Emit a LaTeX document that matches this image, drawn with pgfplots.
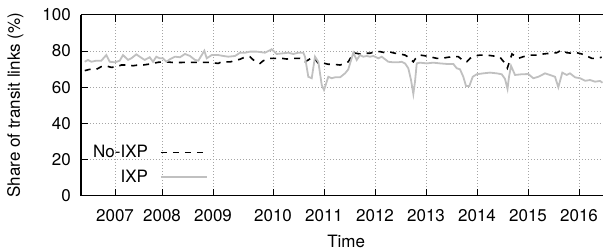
\documentclass[border=0pt]{standalone}
\usepackage{pgfplots}
\pgfplotsset{compat=1.18}
\usepackage{fontspec}
\setmainfont{TeX Gyre Heros}
\usetikzlibrary{calc}
\pgfdeclarelayer{legendbg}
\pgfplotsset{
  layers/mylayers/.define layer set={axis background,axis grid,legendbg,axis ticks,axis lines,axis tick labels,main,axis descriptions,axis foreground}{},
}
\definecolor{ixpgray}{RGB}{192,192,192}
\definecolor{gridgray}{RGB}{165,165,165}
\begin{document}
\begin{tikzpicture}
\begin{axis}[
  set layers=mylayers,
  scale only axis,
  width=522pt, height=181pt,
  xmin=6.235, xmax=16.47,
  ymin=0, ymax=100,
  axis x line=box, axis y line=left,
  y axis line style={-},
  axis line style={line width=1.1pt},
  tick align=inside,
  major tick length=7pt,
  tick style={black, line width=0.8pt},
  xtick={6.902,7.824,8.824,10,11,12,13,14,15,16},
  xticklabels={2007,2008,2009,2010,2011,2012,2013,2014,2015,2016},
  xticklabel pos=bottom,
  ytick={0,20,40,60,80,100},
  grid=major,
  grid style={gridgray, line width=0.6pt, dash pattern=on 0.6pt off 2.4pt},
  font=\fontsize{17pt}{20pt}\selectfont,
  /pgf/number format/assume math mode=true,
  xticklabel style={anchor=north, inner sep=0pt, yshift=-14pt},
  yticklabel style={anchor=east, inner sep=0pt, xshift=-10pt},
  xlabel={Time},
  xlabel style={at={(axis description cs:0.508,-0.215)}, anchor=north, inner sep=0pt},
  ylabel={Share of transit links (\%)},
  ylabel style={at={(axis description cs:-0.117,0.5)}, anchor=base, rotate=0, inner sep=0pt},
  legend plot pos=right,
  legend cell align=right,
  legend style={draw=none, fill=none, inner sep=0pt,
    at={(rel axis cs:0.2433,0.062)}, anchor=south east,
    row sep=11pt, column sep=0pt,
    nodes={inner sep=0pt},
    /tikz/every odd column/.style={column sep=12pt}},
  legend image code/.code={\draw[#1] (0pt,0pt) -- (46pt,0pt);},
]
\begin{pgfonlayer}{legendbg}
\fill[white] (rel axis cs:0,0) rectangle (rel axis cs:0.2586,0.335);
\end{pgfonlayer}
\addplot[black, line width=1.6pt, dash pattern=on 6pt off 6pt] table {
6.308 69.1
6.406 69.8
6.535 69.8
6.633 71.3
6.731 71.7
6.829 70.9
6.947 71.3
7.025 72.2
7.157 72.2
7.255 71.8
7.353 72.2
7.451 72.2
7.549 72.6
7.647 73.1
7.745 73.7
7.882 74.0
8.078 73.5
8.308 73.7
8.504 73.7
8.731 73.7
8.927 73.1
8.994 74.0
9.157 73.9
9.353 75.4
9.418 76.2
9.549 76.8
9.614 75.0
9.745 73.1
9.810 74.6
9.941 75.9
10.039 75.9
10.170 75.9
10.269 75.5
10.398 75.9
10.529 75.9
10.627 74.0
10.692 75.0
10.790 76.8
10.888 73.1
10.955 73.5
11.084 72.6
11.182 72.6
11.314 72.2
11.412 73.1
11.476 74.0
11.543 77.2
11.608 78.8
11.706 78.3
11.804 78.7
11.902 78.7
12.000 79.6
12.098 79.6
12.196 79.0
12.294 79.4
12.392 78.7
12.490 78.3
12.588 77.7
12.653 76.5
12.751 74.0
12.784 75.4
12.882 77.7
12.980 77.3
13.112 76.5
13.210 75.9
13.308 75.9
13.437 76.5
13.535 76.8
13.633 76.8
13.731 74.6
13.798 74.0
13.863 75.9
13.961 77.2
14.059 77.7
14.190 77.7
14.320 77.2
14.451 76.5
14.549 73.1
14.594 70.5
14.647 75.0
14.686 78.3
14.810 75.9
14.908 76.8
15.039 77.7
15.171 77.7
15.300 78.3
15.431 78.7
15.563 79.0
15.661 80.5
15.759 79.0
15.857 78.7
15.955 79.0
16.053 78.3
16.151 77.2
16.249 75.9
16.347 75.9
16.445 76.5
};
\addlegendentry{No-IXP}
\addplot[ixpgray, line width=1.8pt] table {
6.308 74.0
6.372 75.0
6.437 74.0
6.535 74.6
6.633 74.6
6.731 77.7
6.798 74.0
6.896 73.7
6.994 74.6
7.059 77.7
7.157 75.0
7.222 75.9
7.320 78.1
7.386 76.8
7.484 75.0
7.582 76.5
7.647 74.0
7.712 76.8
7.778 75.9
7.843 75.9
7.908 74.0
7.980 75.4
8.078 76.8
8.176 76.5
8.274 78.3
8.372 77.2
8.471 75.0
8.535 74.6
8.602 77.7
8.653 80.1
8.700 75.9
8.798 77.7
8.927 77.7
9.025 77.2
9.123 76.8
9.255 77.2
9.353 79.0
9.451 79.0
9.549 79.6
9.680 79.6
9.843 79.0
9.974 80.9
10.072 78.3
10.202 78.7
10.300 79.0
10.398 78.3
10.496 79.0
10.594 79.0
10.627 76.8
10.692 65.7
10.759 64.9
10.823 76.8
10.888 74.0
10.955 61.2
11.000 58.4
11.084 65.7
11.151 64.9
11.216 65.4
11.314 65.4
11.412 67.6
11.476 69.8
11.574 79.0
11.641 75.0
11.706 77.7
11.771 76.8
11.837 77.2
11.902 76.8
11.967 77.2
12.065 75.9
12.131 76.8
12.196 75.4
12.261 74.0
12.359 73.7
12.457 73.7
12.523 74.0
12.588 73.1
12.653 70.4
12.706 63.9
12.751 56.2
12.784 63.0
12.818 73.1
12.882 73.5
13.014 73.1
13.143 73.5
13.274 73.1
13.406 72.8
13.535 72.8
13.602 70.4
13.667 69.8
13.731 65.7
13.784 60.6
13.849 60.6
13.916 65.7
13.994 67.1
14.123 67.6
14.255 68.0
14.386 67.6
14.484 67.1
14.549 64.5
14.598 59.0
14.627 65.7
14.667 71.7
14.745 66.7
14.876 67.1
15.006 67.2
15.104 64.9
15.202 65.7
15.333 67.6
15.431 66.7
15.529 65.7
15.594 59.9
15.672 68.0
15.759 66.7
15.823 67.6
15.922 65.4
16.020 64.9
16.118 63.5
16.216 63.9
16.314 63.0
16.412 63.4
16.461 62.4
};
\addlegendentry{IXP}
\coordinate (bl) at (rel axis cs:0,0);
\coordinate (tr) at (rel axis cs:1,1);
\end{axis}
\pgfresetboundingbox
\path ($(bl)+(-81pt,-54.3pt)$) rectangle ($(tr)+(0pt,14.7pt)$);
\end{tikzpicture}
\end{document}
